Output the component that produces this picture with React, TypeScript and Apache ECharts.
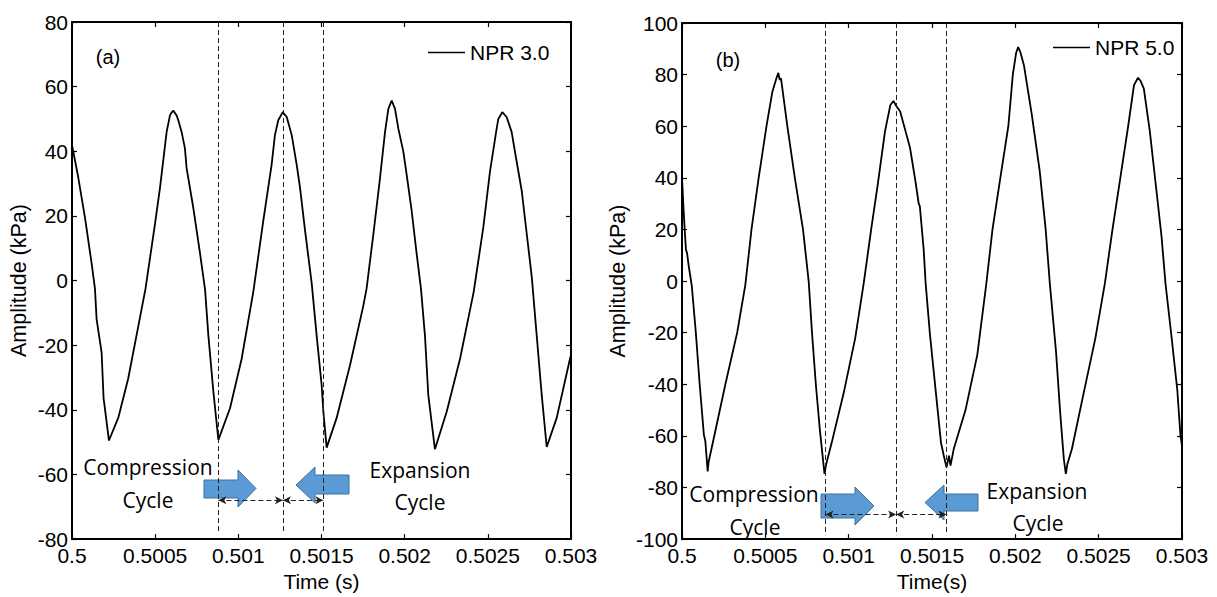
import React, { useEffect, useRef } from "react";
import * as echarts from "echarts";

// ---- Data ----
const timeA = [
  0.5, 0.500038, 0.500078, 0.500118, 0.500138, 0.500148, 0.500178, 0.50019, 0.500194, 0.500222,
  0.500278, 0.500338, 0.500399, 0.500442, 0.500499, 0.500529, 0.500569, 0.500589, 0.500599, 0.500609,
  0.500629, 0.500639, 0.500659, 0.500679, 0.500689, 0.500729, 0.50077, 0.5008, 0.50082, 0.50085, 0.50088,
  0.50095, 0.50102, 0.50109, 0.50115, 0.5012, 0.50122, 0.50124, 0.501267, 0.501291,
  0.501321, 0.501351, 0.501371, 0.501401, 0.501441, 0.501471, 0.501501, 0.501511, 0.501531,
  0.501591, 0.501671, 0.501751, 0.501771, 0.501812, 0.501852, 0.501882, 0.501902, 0.501922, 0.501942,
  0.501962, 0.501992, 0.502012, 0.502042, 0.502072, 0.502098, 0.502122, 0.502142, 0.502182,
  0.502253, 0.502333, 0.502415, 0.502473, 0.502513, 0.502553, 0.502563, 0.502587, 0.502613, 0.502643,
  0.502663, 0.502704, 0.502734, 0.502764, 0.502794, 0.502824, 0.502854,
  0.502914, 0.502994, 0.503,
];
const ampA = [
  42, 31.8, 19.5, 5.3, -2.5, -12, -22.2, -36.5, -38, -49.5,
  -42.5, -30.3, -14, -2.5, 17.5, 28.7, 46, 51.1, 52, 52.6,
  51.1, 49.6, 46, 40.9, 34.8, 22.6, 8.3, -2.8, -17.1, -34.4, -49.3,
  -39.5, -24.2, -3.5, 18.5, 35.8, 45, 49.6, 52.1, 50.6,
  45, 35.8, 28.7, 15.5, -0.8, -17.1, -32.4, -40.5, -51.7,
  -42.5, -26.3, -7.9, -2.5, 14.4, 31.8, 46, 53.1, 55.7, 53.1,
  47, 39.9, 32.8, 21.6, 8.3, -2.5, -17.1, -35.4, -52.2,
  -40.5, -24.2, -3.5, 16.5, 33.8, 47, 50, 52.1, 50.6, 46,
  39.9, 27.7, 14.4, 1.2, -17.1, -35.4, -51.5,
  -42.5, -24.2, -23,
];

const timeB = [
  0.5, 0.50001, 0.500016, 0.500024, 0.50003, 0.50004, 0.500059, 0.500083, 0.500106, 0.500128, 0.500131,
  0.50014, 0.500154, 0.50016, 0.500189, 0.50026, 0.500331, 0.50038, 0.500417, 0.50046, 0.500507,
  0.500542, 0.500566, 0.500578, 0.500586, 0.500594, 0.500632, 0.500677, 0.500726, 0.50076, 0.50078,
  0.500803, 0.500827, 0.500855, 0.500865, 0.500898, 0.500969, 0.501039, 0.50109, 0.501135, 0.501175,
  0.501218, 0.50125, 0.501269, 0.501284, 0.501309, 0.501368, 0.501403, 0.50142, 0.501427, 0.50145,
  0.501462, 0.501488, 0.501524, 0.501554, 0.501571, 0.501587, 0.501602, 0.501611, 0.50163, 0.501701,
  0.501772, 0.501825, 0.501863, 0.50191, 0.501958, 0.501985, 0.502005, 0.502017, 0.502031, 0.502052,
  0.502099, 0.502146, 0.502182, 0.502207, 0.502244, 0.502268, 0.502291, 0.502303, 0.502312, 0.502339,
  0.502409, 0.50248, 0.502537, 0.502583, 0.50263, 0.502677, 0.502712, 0.502736, 0.502752, 0.502771,
  0.502807, 0.502842, 0.502877, 0.502901, 0.502936, 0.502972, 0.502991, 0.503,
];
const ampB = [
  40, 27, 20, 12, 11, 6, -2, -20, -40, -57, -59.5,
  -62, -73.8, -70, -61.4, -40.1, -20, -1.5, 20, 40, 60,
  73.3, 78.5, 80.7, 78, 78.5, 60, 40, 20, 0, -20,
  -40, -57.6, -74.7, -71, -62.7, -43.7, -22.2, -1, 20, 37.7,
  58, 68.2, 69.8, 68, 65.7, 51.7, 37.7, 30.1, 29, 12.3,
  -1, -20.9, -43.7, -62.7, -67.7, -72.2, -67.7, -71.5, -65.2, -50,
  -28.5, -1.5, 20, 40, 60, 80, 88.5, 90.7, 88.5, 83.5,
  64.4, 42.8, 20, -1, -27.2, -50, -69, -74.7, -71, -65.2,
  -43.7, -22.2, -1, 20, 40, 60, 75.9, 78.8, 77.5, 74.6,
  58, 37.7, 17.4, -1, -20.9, -42.4, -60, -63.9,
];

const xTicksMin = 0.5;
const xTicksMax = 0.503;
const xTickStep = 0.0005;
const yRangeA = [-80, 80];
const yRangeB = [-100, 100];

// dashed markers (time, s)
const markersA = [0.50088, 0.501268, 0.501511];
const markersB = [0.500861, 0.501285, 0.501587];

const seriesNames = ["NPR 3.0", "NPR 5.0"];

const AX_FONT = "'Liberation Sans', Arial, sans-serif";
const NOTE_FONT = "'Open Sans', 'Noto Sans', sans-serif";

function zip(t: number[], v: number[]) {
  return t.map((x, i) => [x, v[i]]);
}

function makeXAxes(grid: number, name: string, gap: number) {
  const common = {
    gridIndex: grid,
    type: "value" as const,
    min: xTicksMin,
    max: xTicksMax,
    interval: xTickStep,
    splitLine: { show: false },
    axisLine: { show: true, onZero: false, lineStyle: { color: "#000", width: 2 } },
    axisTick: { show: true, inside: true, length: 5, lineStyle: { color: "#000", width: 1.2 } },
  };
  return [
    {
      ...common,
      position: "bottom",
      name,
      nameLocation: "middle",
      nameGap: gap,
      nameTextStyle: { fontSize: 21, color: "#000", fontFamily: AX_FONT },
      axisLabel: {
        fontSize: 21,
        color: "#000",
        fontFamily: AX_FONT,
        margin: 6,
        formatter: (v: number) => String(Number(v.toFixed(4))),
      },
    },
    { ...common, position: "top", axisLabel: { show: false } },
  ];
}

function makeYAxes(grid: number, range: number[], gap: number) {
  const common = {
    gridIndex: grid,
    type: "value" as const,
    min: range[0],
    max: range[1],
    interval: 20,
    splitLine: { show: false },
    axisLine: { show: true, onZero: false, lineStyle: { color: "#000", width: 2 } },
    axisTick: { show: true, inside: true, length: 5, lineStyle: { color: "#000", width: 1.2 } },
  };
  return [
    {
      ...common,
      position: "left",
      name: "Amplitude (kPa)",
      nameLocation: "middle",
      nameGap: gap,
      nameRotate: 90,
      nameTextStyle: { fontSize: 21.5, color: "#000", fontFamily: AX_FONT },
      axisLabel: { fontSize: 21, color: "#000", fontFamily: AX_FONT, margin: 4 },
    },
    { ...common, position: "right", axisLabel: { show: false } },
  ];
}

function markLines(markers: number[], top: number, bottom: number, arrowY: number) {
  const dashed = markers.map((t) => [
    { coord: [t, top], symbol: "none" },
    { coord: [t, bottom], symbol: "none" },
  ]);
  const arrows = [
    [
      { coord: [markers[0], arrowY], symbol: "arrow", symbolSize: [6, 8] },
      { coord: [markers[1], arrowY], symbol: "arrow", symbolSize: [6, 8] },
    ],
    [
      { coord: [markers[1], arrowY], symbol: "arrow", symbolSize: [6, 8] },
      { coord: [markers[2], arrowY], symbol: "arrow", symbolSize: [6, 8] },
    ],
  ];
  return {
    silent: true,
    animation: false,
    label: { show: false },
    emphasis: { disabled: true },
    lineStyle: { color: "#222", width: 1, type: [5, 3] },
    data: [...dashed, ...arrows],
  };
}

function blockArrow(points: number[][]) {
  return {
    type: "polygon",
    shape: { points },
    style: { fill: "#5B9BD5", stroke: "#41719C", lineWidth: 1 },
    silent: true,
  };
}

function note(text: string, x: number, y: number) {
  return {
    type: "text",
    x,
    y,
    style: {
      text,
      fontFamily: NOTE_FONT,
      fontSize: 21,
      fill: "#000",
      align: "center",
      verticalAlign: "middle",
    },
    silent: true,
  };
}

function plain(text: string, x: number, y: number) {
  return {
    type: "text",
    x,
    y,
    style: {
      text,
      fontFamily: AX_FONT,
      fontSize: 20,
      fill: "#000",
      align: "center",
      verticalAlign: "middle",
    },
    silent: true,
  };
}

export default function App() {
  const ref = useRef<HTMLDivElement>(null);

  useEffect(() => {
    if (!ref.current) return;
    const chart = echarts.init(ref.current, undefined, { renderer: "svg" });
    const option: any = {
      animation: false,
      backgroundColor: "#fff",
      grid: [
        { left: 72, top: 22, width: 499, height: 524 },
        { left: 682, top: 23, width: 500, height: 524 },
      ],
      xAxis: [...makeXAxes(0, "Time (s)", 27), ...makeXAxes(1, "Time(s)", 27)],
      yAxis: [...makeYAxes(0, yRangeA, 42), ...makeYAxes(1, yRangeB, 53)],
      legend: [
        {
          data: [seriesNames[0]],
          left: 423,
          top: 37,
          icon: "rect",
          itemWidth: 37,
          itemHeight: 1.6,
          textStyle: { fontSize: 21, color: "#000", fontFamily: AX_FONT },
          selectedMode: false,
        },
        {
          data: [seriesNames[1]],
          left: 1048,
          top: 32,
          icon: "rect",
          itemWidth: 37,
          itemHeight: 1.6,
          textStyle: { fontSize: 21, color: "#000", fontFamily: AX_FONT },
          selectedMode: false,
        },
      ],
      series: [
        {
          name: seriesNames[0],
          type: "line",
          xAxisIndex: 0,
          yAxisIndex: 0,
          data: zip(timeA, ampA),
          showSymbol: false,
          symbol: "none",
          lineStyle: { color: "#000", width: 1.8 },
          itemStyle: { color: "#000" },
          markLine: markLines(markersA, 80, -78, -68),
        },
        {
          name: seriesNames[1],
          type: "line",
          xAxisIndex: 2,
          yAxisIndex: 2,
          data: zip(timeB, ampB),
          showSymbol: false,
          symbol: "none",
          lineStyle: { color: "#000", width: 1.8 },
          itemStyle: { color: "#000" },
          markLine: markLines(markersB, 100, -98.5, -90.5),
        },
      ],
      graphic: [
        plain("(a)", 108, 57),
        plain("(b)", 728, 60),
        note("Compression", 148, 467),
        note("Cycle", 148, 500),
        note("Expansion", 420, 470),
        note("Cycle", 420, 502),
        note("Compression", 754, 494),
        note("Cycle", 755, 527),
        note("Expansion", 1037, 491),
        note("Cycle", 1038, 523),
        blockArrow([[204, 480], [238, 480], [238, 470], [256, 488.5], [238, 507], [238, 498], [204, 498]]),
        blockArrow([[349, 475], [315, 475], [315, 467], [296, 485], [315, 503], [315, 494], [349, 494]]),
        blockArrow([[821, 494], [855, 494], [855, 487], [874, 506], [855, 525], [855, 518], [821, 518]]),
        blockArrow([[978, 494], [944, 494], [944, 485], [925, 502.5], [944, 520], [944, 511], [978, 511]]),
      ],
    };
    chart.setOption(option);
    return () => chart.dispose();
  }, []);

  return (
    <div
      ref={ref}
      style={{ position: "absolute", left: 0, top: 0, width: 1217, height: 597, background: "#fff" }}
    />
  );
}
